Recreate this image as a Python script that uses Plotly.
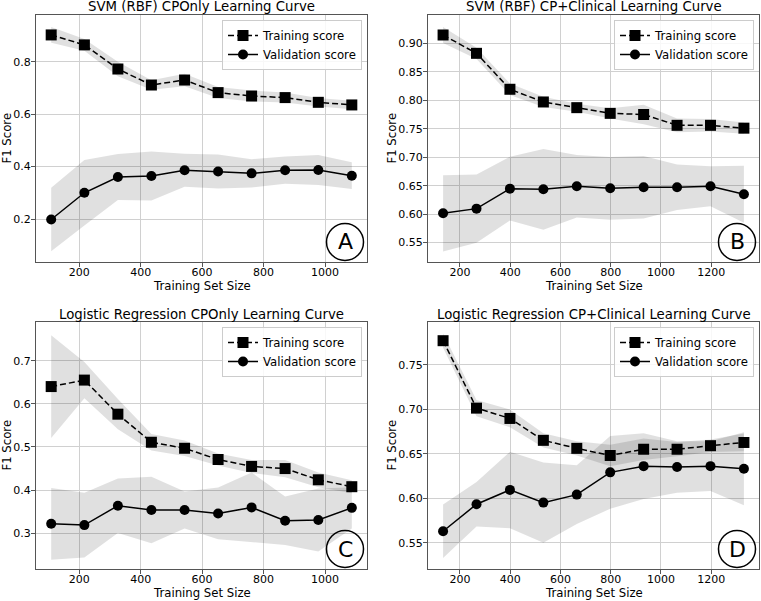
import plotly.graph_objects as go

# ---------------- data ----------------
sizes_cponly = [109, 217, 326, 435, 543, 652, 761, 870, 978, 1087]
sizes_clin = [133, 266, 399, 532, 665, 798, 931, 1064, 1197, 1330]

svm_cp_train_mean = [0.902, 0.864, 0.772, 0.711, 0.730, 0.682, 0.669, 0.663, 0.645, 0.635]
svm_cp_train_std = [0.030, 0.022, 0.028, 0.018, 0.024, 0.021, 0.021, 0.019, 0.016, 0.016]
svm_cp_val_mean = [0.198, 0.300, 0.360, 0.364, 0.386, 0.381, 0.374, 0.386, 0.387, 0.365]
svm_cp_val_std = [0.121, 0.125, 0.088, 0.093, 0.063, 0.065, 0.054, 0.052, 0.057, 0.051]

svm_cl_train_mean = [0.9146, 0.8824, 0.8193, 0.797, 0.787, 0.777, 0.775, 0.756, 0.756, 0.751]
svm_cl_train_std = [0.014, 0.010, 0.010, 0.009, 0.007, 0.009, 0.017, 0.012, 0.011, 0.010]
svm_cl_val_mean = [0.6015, 0.6097, 0.6448, 0.6436, 0.649, 0.6454, 0.6472, 0.6472, 0.649, 0.635]
svm_cl_val_std = [0.067, 0.060, 0.056, 0.071, 0.055, 0.055, 0.055, 0.040, 0.035, 0.050]

lr_cp_train_mean = [0.640, 0.655, 0.576, 0.511, 0.497, 0.471, 0.455, 0.450, 0.424, 0.408]
lr_cp_train_std = [0.119, 0.042, 0.035, 0.019, 0.018, 0.014, 0.015, 0.020, 0.017, 0.015]
lr_cp_val_mean = [0.322, 0.319, 0.364, 0.354, 0.354, 0.346, 0.360, 0.329, 0.331, 0.359]
lr_cp_val_std = [0.083, 0.075, 0.063, 0.077, 0.043, 0.060, 0.081, 0.056, 0.073, 0.048]

lr_cl_train_mean = [0.777, 0.7012, 0.6896, 0.665, 0.656, 0.648, 0.655, 0.655, 0.659, 0.6626]
lr_cl_train_std = [0.008, 0.009, 0.010, 0.008, 0.008, 0.012, 0.012, 0.008, 0.007, 0.010]
lr_cl_val_mean = [0.5628, 0.5932, 0.6093, 0.595, 0.604, 0.629, 0.636, 0.635, 0.636, 0.633]
lr_cl_val_std = [0.030, 0.025, 0.043, 0.045, 0.033, 0.041, 0.037, 0.029, 0.028, 0.041]

titles = ["SVM (RBF) CPOnly Learning Curve", "SVM (RBF) CP+Clinical Learning Curve",
          "Logistic Regression CPOnly Learning Curve", "Logistic Regression CP+Clinical Learning Curve"]
letters = ["A", "B", "C", "D"]
legend_names = ["Training score", "Validation score"]
x_title = "Training Set Size"
y_title = "F1 Score"

# ---------------- layout geometry (pixels) ----------------
W, H = 761, 601
FONT = "DejaVu Sans"
panels = [
    (sizes_cponly, svm_cp_train_mean, svm_cp_train_std, svm_cp_val_mean, svm_cp_val_std,
     (36, 367, 15, 262), [59.6, 1136.4], [0.036, 0.978], [0.2, 0.4, 0.6, 0.8], ".1f", [200, 400, 600, 800, 1000]),
    (sizes_clin, svm_cl_train_mean, svm_cl_train_std, svm_cl_val_mean, svm_cl_val_std,
     (428, 759, 15, 262), [73, 1390], [0.516, 0.9497], [0.55, 0.60, 0.65, 0.70, 0.75, 0.80, 0.85, 0.90], ".2f",
     [200, 400, 600, 800, 1000, 1200]),
    (sizes_cponly, lr_cp_train_mean, lr_cp_train_std, lr_cp_val_mean, lr_cp_val_std,
     (36, 367, 322, 569), [59.6, 1136.4], [0.2173, 0.7896], [0.3, 0.4, 0.5, 0.6, 0.7], ".1f", [200, 400, 600, 800, 1000]),
    (sizes_clin, lr_cl_train_mean, lr_cl_train_std, lr_cl_val_mean, lr_cl_val_std,
     (428, 759, 322, 569), [73, 1390], [0.5204, 0.798], [0.55, 0.60, 0.65, 0.70, 0.75], ".2f",
     [200, 400, 600, 800, 1000, 1200]),
]

fig = go.Figure()
layout = dict(width=W, height=H, margin=dict(l=0, r=0, t=0, b=0),
              paper_bgcolor="white", plot_bgcolor="white",
              font=dict(family=FONT, size=11, color="black"),
              annotations=[], shapes=[])

FILL = "rgba(0,0,0,0.12)"
GRID = "#d0d0d0"
SPINE = "#555555"

for i, (sz, tm, ts, vm, vs, box, xr, yr, yt, fmt, xt) in enumerate(panels):
    k = "" if i == 0 else str(i + 1)
    xa, ya = "x" + k, "y" + k
    leg = "legend" + k
    l, r, t, b = box
    tu = [m + s for m, s in zip(tm, ts)]
    tl = [m - s for m, s in zip(tm, ts)]
    vu = [m + s for m, s in zip(vm, vs)]
    vl = [m - s for m, s in zip(vm, vs)]
    fig.add_trace(go.Scatter(x=sz + sz[::-1], y=tu + tl[::-1], fill="toself", fillcolor=FILL,
                             line=dict(width=0), mode="lines", showlegend=False, hoverinfo="skip",
                             xaxis=xa, yaxis=ya))
    fig.add_trace(go.Scatter(x=sz + sz[::-1], y=vu + vl[::-1], fill="toself", fillcolor=FILL,
                             line=dict(width=0), mode="lines", showlegend=False, hoverinfo="skip",
                             xaxis=xa, yaxis=ya))
    fig.add_trace(go.Scatter(x=sz, y=tm, mode="lines+markers", name=legend_names[0],
                             line=dict(color="black", width=1.5, dash="6px,3px"),
                             marker=dict(symbol="square", size=11, color="black"),
                             xaxis=xa, yaxis=ya, legend=leg))
    fig.add_trace(go.Scatter(x=sz, y=vm, mode="lines+markers", name=legend_names[1],
                             line=dict(color="black", width=1.5),
                             marker=dict(symbol="circle", size=10, color="black"),
                             xaxis=xa, yaxis=ya, legend=leg))

    dx = [l / W, r / W]
    dy = [1 - b / H, 1 - t / H]
    axcommon = dict(showgrid=True, gridcolor=GRID, gridwidth=1, showline=True, mirror=True,
                    linecolor=SPINE, linewidth=1, ticks="outside", ticklen=4, tickcolor=SPINE,
                    zeroline=False, tickfont=dict(family=FONT, size=11, color="black"))
    layout["xaxis" + k] = dict(domain=dx, range=xr, anchor=ya, tickvals=xt, ticklabelstandoff=-4, **axcommon)
    layout["yaxis" + k] = dict(domain=dy, range=yr, anchor=xa, tickvals=yt, tickformat=fmt,
                               ticklabelstandoff=-2, **axcommon)

    layout[leg] = dict(x=(r - 5) / W, y=1 - (t + 5) / H, xanchor="right", yanchor="top",
                       bgcolor="rgba(255,255,255,0.85)", bordercolor="#cccccc", borderwidth=1,
                       font=dict(family=FONT, size=11.7, color="black"), traceorder="normal",
                       itemwidth=30, tracegroupgap=0)

    layout["annotations"].append(dict(text=titles[i], x=(l + r) / 2 / W, y=1 - (t - 8) / H,
                                      xref="paper", yref="paper", showarrow=False,
                                      xanchor="center", yanchor="middle",
                                      font=dict(family=FONT, size=13.3, color="black")))
    layout["annotations"].append(dict(text=x_title, x=(l + r) / 2 / W, y=1 - (b + 24) / H,
                                      xref="paper", yref="paper", showarrow=False,
                                      xanchor="center", yanchor="middle",
                                      font=dict(family=FONT, size=11.7, color="black")))
    ytx = l - (30 if fmt == ".1f" else 37)
    layout["annotations"].append(dict(text=y_title, x=ytx / W, y=1 - (t + b) / 2 / H,
                                      xref="paper", yref="paper", showarrow=False, textangle=-90,
                                      xanchor="center", yanchor="middle",
                                      font=dict(family=FONT, size=11.7, color="black")))
    cx, cy, rad = r - 22, b - 20, 18.5
    layout["shapes"].append(dict(type="circle", xref="paper", yref="paper",
                                 x0=(cx - rad) / W, x1=(cx + rad) / W,
                                 y0=1 - (cy + rad) / H, y1=1 - (cy - rad) / H,
                                 line=dict(color="black", width=1.5), fillcolor="rgba(0,0,0,0)"))
    layout["annotations"].append(dict(text=letters[i], x=cx / W, y=1 - cy / H,
                                      xref="paper", yref="paper", showarrow=False,
                                      xanchor="center", yanchor="middle",
                                      font=dict(family=FONT, size=22, color="black")))

fig.update_layout(**layout)
fig.write_html("out.html", config={"displayModeBar": False},
               post_script="document.body.style.margin='0';document.body.style.overflow='hidden';")
